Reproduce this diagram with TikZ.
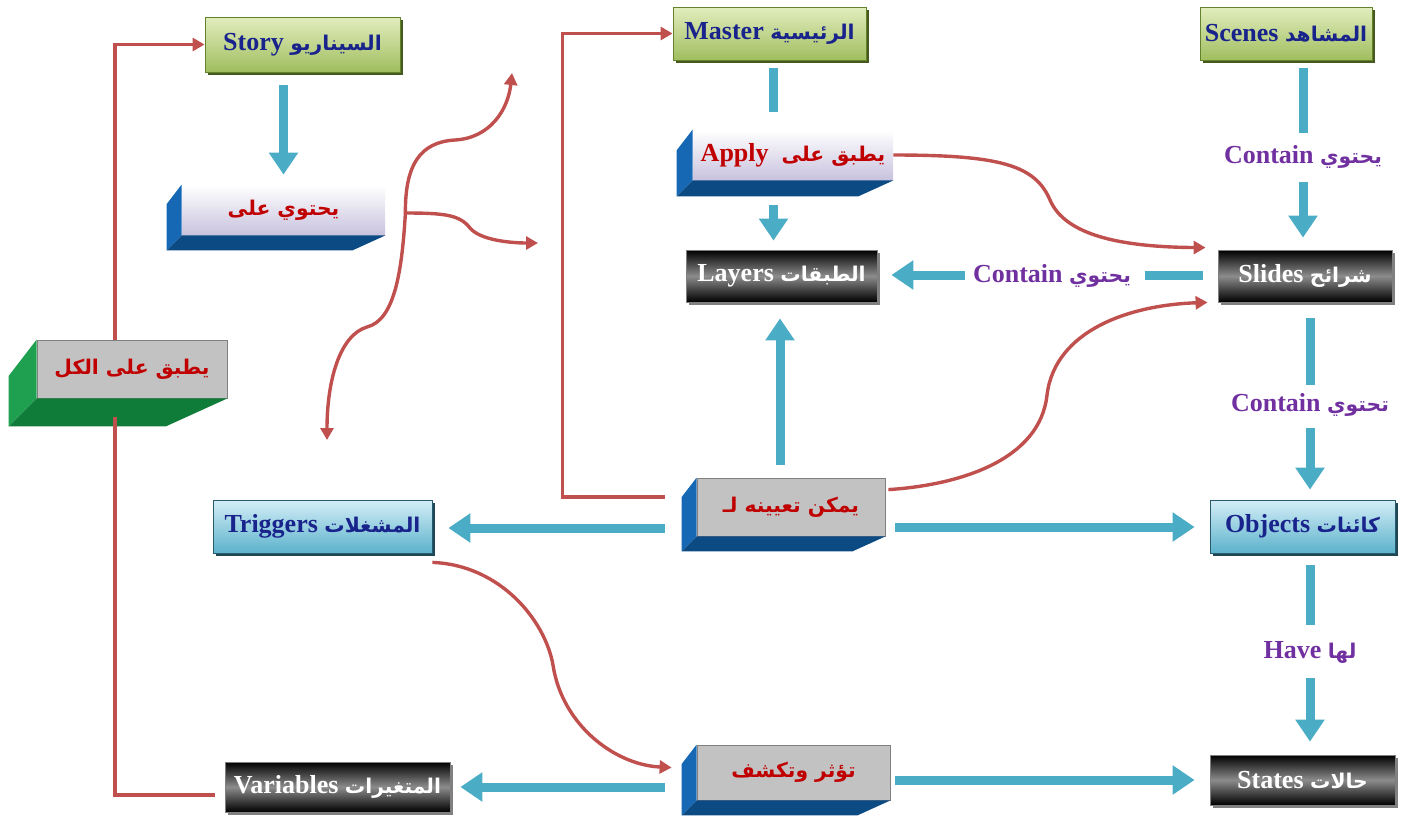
\documentclass[tikz,border=0pt]{standalone}
\usepackage{fontspec}
\setmainfont{Liberation Serif}
\newfontfamily\arabicfont[Script=Arabic,Scale=0.78]{DejaVu Sans}
\TeXXeTstate=1
\usetikzlibrary{arrows.meta,calc,shadows}

\definecolor{navytext}{RGB}{25,35,140}
\definecolor{redtext}{RGB}{192,0,0}
\definecolor{purpletext}{RGB}{112,48,160}
\definecolor{arrowcyan}{RGB}{75,172,198}
\definecolor{arrowred}{RGB}{192,80,77}
\definecolor{greentop}{RGB}{226,237,190}
\definecolor{greenbot}{RGB}{160,190,95}
\definecolor{cyantop}{RGB}{212,238,246}
\definecolor{cyanbot}{RGB}{92,178,204}
\definecolor{bevelblue}{RGB}{22,104,180}
\definecolor{bevelnavy}{RGB}{12,74,132}
\definecolor{bevelgreen}{RGB}{30,160,80}
\definecolor{beveldkgreen}{RGB}{16,124,58}
\definecolor{lavender}{RGB}{200,194,222}
\definecolor{facegray}{RGB}{194,194,194}

\newcommand{\ar}[1]{{\arabicfont\bfseries #1}}
% side and bottom of a raised box: node, depth, side colour, bottom colour
\newcommand{\bevelbox}[4]{%
  \fill[#3] (#1.north west) -- ++(-#2,1.3*#2) -- ($(#1.south west)+(-#2,#2)$) -- (#1.south west) -- cycle;
  \fill[#4] (#1.south west) -- ($(#1.south west)+(-#2,#2)$) -- ($(#1.south east)+(-2.2*#2,#2)$) -- (#1.south east) -- cycle;}

\begin{document}
\begin{tikzpicture}[x=0.5pt,y=-0.5pt,
    every node/.style={font=\fontsize{13}{16}\selectfont\bfseries, inner sep=0pt, align=center},
    greenbox/.style={draw={rgb,255:red,100;green,130;blue,45}, top color=greentop, bottom color=greenbot, text=navytext,
      drop shadow={shadow xshift=1.5pt, shadow yshift=-1.5pt, opacity=1, fill={rgb,255:red,70;green,90;blue,30}}},
    cyanbox/.style={draw={rgb,255:red,40;green,90;blue,110}, top color=cyantop, bottom color=cyanbot, text=navytext,
      drop shadow={shadow xshift=1.5pt, shadow yshift=-1.5pt, opacity=1, fill={rgb,255:red,30;green,70;blue,85}}},
    blackbox/.style={draw=gray, top color=black, bottom color=black, middle color={rgb,255:red,140;green,140;blue,140}, text=white,
      drop shadow={shadow xshift=1.5pt, shadow yshift=-1.5pt, opacity=1, fill=gray}},
    liftface/.style={top color=white, bottom color=lavender, text=redtext, font=\fontsize{13}{18}\selectfont\bfseries},
    grayface/.style={fill=facegray, draw=gray, text=redtext, font=\fontsize{13}{18}\selectfont\bfseries},
    relname/.style={text=purpletext},
    cyanarrow/.style={draw=arrowcyan, line width=4.5pt, -{Triangle[width=14pt,length=11pt]}},
    cyanbar/.style={draw=arrowcyan, line width=4.5pt},
    redarrow/.style={draw=arrowred, line width=1.7pt, -{Triangle[width=6.5pt,length=6pt]}},
    redline/.style={draw=arrowred, line width=1.7pt}]
\useasboundingbox (0,0) rectangle (1402,820);

% top row
\node[greenbox, minimum width=97.5pt, minimum height=27.5pt] (story) at (302.5,44.5) {\beginR\ar{السيناريو} Story\endR};
\node[greenbox, minimum width=96.5pt, minimum height=26.5pt] (master) at (769.5,33.5) {\beginR\ar{الرئيسية} Master\endR};
\node[greenbox, minimum width=86pt, minimum height=26.5pt] (scenes) at (1286,33.5) {\beginR\ar{المشاهد} Scenes\endR};

% raised boxes
\node[liftface, minimum width=101.5pt, minimum height=25pt] (contain) at (283.5,210) {\beginR\ar{يحتوي على}\endR};
\bevelbox{contain}{15}{bevelblue}{bevelnavy}
\node[liftface, minimum width=100pt, minimum height=25pt] (apply) at (793,155) {\beginR\ar{يطبق على} \ Apply\endR};
\bevelbox{apply}{16}{bevelblue}{bevelnavy}
\node[grayface, minimum width=95pt, minimum height=29pt] (all) at (132,369) {\beginR\ar{يطبق على الكل}\endR};
\bevelbox{all}{28}{bevelgreen}{beveldkgreen}
\node[grayface, minimum width=94pt, minimum height=29pt] (assign) at (791,507) {\beginR\ar{يمكن تعيينه لـ}\endR};
\bevelbox{assign}{15}{bevelblue}{bevelnavy}
\node[grayface, minimum width=96.5pt, minimum height=27.5pt] (affect) at (793.5,772.5) {\beginR\ar{تؤثر وتكشف}\endR};
\bevelbox{affect}{15}{bevelblue}{bevelnavy}

% dark boxes
\node[blackbox, minimum width=95.5pt, minimum height=26pt] (layers) at (781.5,276) {\beginR\ar{الطبقات} Layers\endR};
\node[blackbox, minimum width=87pt, minimum height=26pt] (slides) at (1305,276) {\beginR\ar{شرائح} Slides\endR};
\node[blackbox, minimum width=112.5pt, minimum height=25pt] (vars) at (337.5,787) {\beginR\ar{المتغيرات} Variables\endR};
\node[blackbox, minimum width=92.5pt, minimum height=25pt] (states) at (1302.5,780) {\beginR\ar{حالات} States\endR};

% blue boxes
\node[cyanbox, minimum width=109.5pt, minimum height=26.5pt] (triggers) at (322.5,526.5) {\beginR\ar{المشغلات} Triggers\endR};
\node[cyanbox, minimum width=92.5pt, minimum height=26.5pt] (objects) at (1302.5,526.5) {\beginR\ar{كائنات} Objects\endR};

% relation names
\node[relname] (lab1) at (1303,157) {\beginR\ar{يحتوي} Contain\endR};
\node[relname] (lab2) at (1052,276) {\beginR\ar{يحتوي} Contain\endR};
\node[relname] (lab3) at (1310,405) {\beginR\ar{تحتوي} Contain\endR};
\node[relname] (lab4) at (1310,652) {\beginR\ar{لها} Have\endR};

% blue arrows
\draw[cyanarrow] ($(story.south -| contain.north)+(0,13)$) -- ($(contain.north)+(0,-10)$);
\draw[cyanbar] ($(master.south)+(4,8)$) -- ($(apply.north -| master.south)+(4,-18)$);
\draw[cyanarrow] ($(apply.south -| layers.north)+(-8,25)$) -- ($(layers.north)+(-8,-9)$);
\draw[cyanbar] ($(scenes.south -| lab1.center)+(0,8)$) -- ($(lab1.center)+(0,-24)$);
\draw[cyanarrow] ($(lab1.center)+(0,25)$) -- ($(slides.north -| lab1.center)+(0,-12)$);
\draw[cyanbar] ($(slides.west)+(-15,-1)$) -- ($(lab2.center)+(93,-1)$);
\draw[cyanarrow] ($(lab2.center)+(-87,-1)$) -- ($(layers.east)+(14,-1)$);
\draw[cyanbar] ($(slides.south -| lab3.center)+(0,16)$) -- ($(lab3.center)+(0,-20)$);
\draw[cyanarrow] ($(lab3.center)+(0,23)$) -- ($(objects.north -| lab3.center)+(0,-10)$);
\draw[cyanbar] ($(objects.south -| lab4.center)+(0,12)$) -- ($(lab4.center)+(0,-27)$);
\draw[cyanarrow] ($(lab4.center)+(0,26)$) -- ($(states.north -| lab4.center)+(0,-13)$);
\draw[cyanarrow] ($(assign.north)+(-11,-13)$) -- ($(assign.north |- layers.south)+(-11,16)$);
\draw[cyanarrow] ($(assign.west)+(-32,21)$) -- ($(triggers.east)+(16,1.5)$);
\draw[cyanarrow] ($(assign.east)+(10,20)$) -- ($(objects.west)+(-15,0.5)$);
\draw[cyanarrow] ($(affect.west)+(-32,14.5)$) -- ($(vars.east)+(10,0)$);
\draw[cyanarrow] ($(affect.east)+(5,7.5)$) -- ($(states.west)+(-15,0)$);

% red connectors
\draw[redarrow] ($(all.north)+(-17,0)$) |- (story.west);
\draw[redline] ($(all.south)+(-17,19)$) |- ($(vars.west)+(-10,8)$);
\draw[redarrow] ($(assign.west)+(-32,-10)$) -| ($(master.west)+(-110,0)$) -- (master.west);
\draw[redarrow] (apply.east) .. controls (1000,155) and (1035,165) .. (1050,200) .. controls (1065,235) and (1120,247) .. ($(slides.north west)+(-12,-2)$);
\draw[redarrow] ($(assign.north east)+(3,12)$) .. controls (960,485) and (1040,460) .. (1047,395) .. controls (1055,330) and (1130,305) .. ($(slides.south west)+(-10,0)$);
\draw[redarrow] ($(triggers.south east)+(0,9)$) .. controls (500,565) and (545,620) .. (553,665) .. controls (562,725) and (615,765) .. ($(affect.west)+(-25,-5)$);

% branching curve
\coordinate (br) at ($(contain.east)+(20,3)$);
\coordinate (brup) at (512,73);
\coordinate (brright) at (538,243);
\coordinate (brdown) at (327,440);
\draw[redarrow] (br) .. controls (405,165) and (420,142) .. (455,140) .. controls (490,138) and (508,110) .. (brup);
\draw[redarrow] (br) .. controls (445,213) and (460,215) .. (470,228) .. controls (480,240) and (510,243) .. (brright);
\draw[redarrow] (br) .. controls (402,270) and (395,320) .. (367,327) .. controls (340,335) and (327,380) .. (brdown);

\end{tikzpicture}
\end{document}
